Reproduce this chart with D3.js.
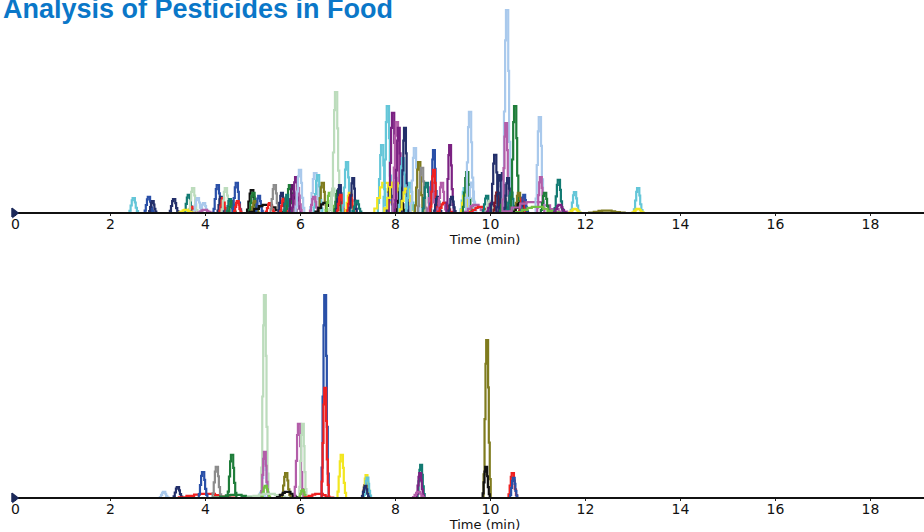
<!DOCTYPE html>
<html>
<head>
<meta charset="utf-8">
<script src="https://cdn.jsdelivr.net/npm/d3@7"></script>
<style>
  body { margin: 0; background: #fff; }
  svg { display: block; }
</style>
</head>
<body>
<div id="chart"></div>
<script>
// peaks: retention time (min), relative height (% of tallest), trace, width (min)
var topTimes   = [2.50, 2.82, 2.90, 3.35, 3.66, 3.72, 3.75, 3.85, 3.98, 3.60, 4.00, 4.27, 4.34, 4.38, 4.44, 4.53, 4.57, 4.67, 4.69,
                  4.99, 5.02, 5.05, 5.14, 5.31, 5.37, 5.47, 5.62, 5.66, 5.79, 5.73, 5.85, 5.92, 5.96, 6.00, 6.32, 6.38, 6.30,
                  6.48, 6.55, 6.63, 6.70, 6.76, 6.80, 6.84, 6.86, 6.99, 7.05, 7.07, 7.12, 7.20, 7.73, 7.79, 7.85, 7.90, 7.96,
                  8.00, 8.04, 8.08, 8.12, 8.17, 8.21, 8.25, 8.32, 8.42, 8.51, 8.57, 8.67, 8.78, 8.82, 8.82, 8.90, 8.99, 9.05,
                  9.16, 9.20, 9.47, 9.48, 9.52, 9.58, 9.62, 9.70, 9.80, 9.94, 10.00, 10.05, 10.11, 10.15, 10.21, 10.27, 10.30,
                  10.36, 10.34, 10.38, 10.45, 10.53, 10.61, 10.65, 10.69, 10.72, 10.95, 11.05, 11.07, 11.16, 11.00, 11.45,
                  11.47, 11.79, 11.79, 12.46, 13.12, 13.12];
var topHeights = [7.4, 7.9, 5.9, 6.9, 8.9, 3.0, 12.3, 7.4, 4.9, 1.5, 1.5, 13.8, 7.9, 7.4, 12.3, 6.9, 5.9, 14.8, 5.9,
                  11.3, 9.9, 5.9, 8.4, 4.0, 4.9, 13.8, 9.9, 7.0, 13.8, 8.9, 13.8, 17.7, 12.3, 21.2, 19.7, 18.7, 8.0,
                  14.8, 5.0, 9.9, 12.0, 59.6, 11.0, 13.8, 9.0, 25.1, 9.9, 8.9, 17.2, 6.0, 33.5, 14.8, 52.7, 12.0, 49.3,
                  15.0, 44.8, 41.9, 12.0, 27.1, 41.9, 12.0, 14.8, 32.0, 25.1, 22.2, 14.8, 14.8, 31.0, 21.2, 8.0, 14.8, 5.0,
                  33.5, 8.0, 12.3, 9.9, 20.2, 49.8, 15.0, 4.0, 3.0, 8.4, 6.0, 5.0, 28.6, 10.0, 18.7, 19.7, 8.0,
                  100, 44.3, 17.2, 10.0, 52.7, 9.9, 5.0, 7.4, 9.0, 5.4, 47.3, 17.7, 9.9, 3.0, 16.3,
                  4.0, 10.3, 2.0, 1.2, 12.3, 2.0];
var topTraces  = ["cyan", "blue", "navy", "navy", "teal", "red", "lgreen", "lblue", "lblue", "yellow", "orchid", "blue", "navy", "red", "lgreen", "teal", "green", "blue", "red",
                  "black", "green", "olive", "blue", "black", "red", "grey", "navy", "red", "green", "teal", "dpurple", "purple", "orchid", "lblue", "lblue", "cyan", "orchid",
                  "olive", "black", "lime", "lgreen", "lgreen", "green", "navy", "red", "cyan", "yellow", "red", "navy", "teal", "cyan", "yellow", "cyan", "navy", "purple",
                  "yellow", "orchid", "purple", "black", "cyan", "navy", "yellow", "cyan", "lblue", "olive", "grey", "teal", "orchid", "blue", "red", "navy", "orchid", "red",
                  "purple", "navy", "cyan", "yellow", "green", "lblue", "lblue", "orchid", "red", "teal", "lgreen", "purple", "navy", "dred", "navy", "navy", "green",
                  "lblue", "orchid", "navy", "teal", "green", "olive", "black", "red", "blue", "orchid", "lblue", "orchid", "green", "lime", "teal",
                  "purple", "cyan", "yellow", "olive", "cyan", "yellow"];
var topWidths  = [0.06, 0.06, 0.05, 0.06, 0.06, 0.05, 0.06, 0.06, 0.06, 0.10, 0.10, 0.06, 0.05, 0.05, 0.06, 0.05, 0.05, 0.06, 0.05,
                  0.07, 0.06, 0.05, 0.05, 0.25, 0.06, 0.06, 0.05, 0.05, 0.06, 0.05, 0.05, 0.06, 0.05, 0.06, 0.07, 0.06, 0.06,
                  0.06, 0.15, 0.06, 0.06, 0.06, 0.05, 0.05, 0.05, 0.06, 0.06, 0.05, 0.05, 0.06, 0.06, 0.15, 0.06, 0.05, 0.06,
                  0.15, 0.06, 0.05, 0.05, 0.06, 0.05, 0.10, 0.06, 0.06, 0.06, 0.06, 0.06, 0.06, 0.05, 0.05, 0.05, 0.06, 0.10,
                  0.05, 0.05, 0.06, 0.06, 0.06, 0.06, 0.06, 0.15, 0.15, 0.06, 0.06, 0.08, 0.06, 0.05, 0.05, 0.05, 0.06,
                  0.06, 0.05, 0.05, 0.06, 0.06, 0.06, 0.10, 0.05, 0.05, 0.45, 0.06, 0.05, 0.06, 0.30, 0.06,
                  0.08, 0.06, 0.08, 0.25, 0.06, 0.08];

var bottomTimes   = [3.14, 3.43, 4.05, 3.96, 4.25, 4.57, 4.65, 5.20, 5.26, 5.26, 5.26, 5.28, 5.35, 5.71, 5.74, 5.98, 6.06, 6.06,
                     6.40, 6.53, 6.53, 6.88, 7.39, 7.40, 7.42, 7.38, 8.55, 8.53, 8.50, 9.94, 9.92, 10.48, 10.50];
var bottomHeights = [3.0, 5.4, 2.0, 12.8, 15.3, 21.2, 1.5, 3.0, 100, 19.7, 22.7, 6.0, 2.0, 12.3, 3.0, 36.5, 36.5, 4.0,
                     2.0, 100, 54.2, 21.2, 7.4, 11.3, 10.0, 6.0, 16.3, 12.3, 3.0, 77.8, 15.3, 12.3, 9.9];
var bottomTraces  = ["lblue", "navy", "red", "blue", "grey", "green", "green", "lblue", "lgreen", "lblue", "orchid", "lime", "lgreen", "olive", "black", "orchid", "lgreen", "lime",
                     "red", "blue", "red", "yellow", "dred", "yellow", "cyan", "navy", "teal", "purple", "orchid", "olive", "black", "red", "blue"];
var bottomWidths  = [0.06, 0.06, 0.40, 0.06, 0.06, 0.06, 0.30, 0.06, 0.05, 0.05, 0.05, 0.06, 0.30, 0.06, 0.15, 0.06, 0.05, 0.05,
                     0.20, 0.05, 0.05, 0.06, 0.05, 0.05, 0.05, 0.05, 0.05, 0.05, 0.08, 0.05, 0.05, 0.06, 0.05];

var timeTicks = [0, 2, 4, 6, 8, 10, 12, 14, 16, 18];

var traceColors = {
  lblue: "#a9c9ec", cyan: "#64c6d8", navy: "#232f6a", blue: "#2a50a8", purple: "#7b2182", dpurple: "#5a1a66",
  orchid: "#b35ea9", green: "#1f7d3a", teal: "#127a72", red: "#f02020", yellow: "#f2e620", olive: "#7f7b1e",
  black: "#111111", grey: "#8c8c8c", lgreen: "#bcdcbc", lime: "#74c043", dred: "#7d1a26"
};

var width = 924, height = 532;

var svg = d3.select("#chart")
  .append("svg")
  .attr("width", width)
  .attr("height", height);

svg.append("text")
  .attr("x", 3)
  .attr("y", 18)
  .style("font-family", "Liberation Sans, Arial, sans-serif")
  .style("font-weight", "bold")
  .style("font-size", "27px")
  .style("fill", "#0a77c8")
  .text("Analysis of Pesticides in Food");

var x = d3.scaleLinear().domain([0, 18]).range([15, 870]);

// stepped outline of one peak: offsets in peak widths, level as fraction of apex
var shapeOffsets = [-5, -1.5, -1.1, -0.7, -0.4, 0.4, 0.7, 1.1, 1.5, 5];
var shapeLevels  = [0, 0.15, 0.5, 0.85, 1, 0.7, 0.35, 0.12, 0, 0];

function drawPanel(baseY, times, heights, traces, widths) {
  var y = d3.scaleLinear().domain([0, 100]).range([baseY, baseY - 203]);

  var line = d3.line()
    .x(function (d) { return x(d[0]); })
    .y(function (d) { return y(d[1]); })
    .curve(d3.curveStepAfter);

  var peaks = times.map(function (t, i) {
    return { t: t, h: heights[i], trace: traces[i], w: widths[i] };
  });

  var g = svg.append("g");

  g.selectAll("path.peak")
    .data(peaks)
    .enter()
    .append("path")
    .attr("class", "peak")
    .attr("d", function (p) {
      var pts = shapeOffsets.map(function (o, k) {
        return [p.t + o * p.w, p.h * shapeLevels[k]];
      });
      return line(pts);
    })
    .style("fill", "none")
    .style("stroke", function (p) { return traceColors[p.trace]; })
    .style("stroke-width", "2.2px")
    .style("stroke-linejoin", "miter");

  // axis
  var axis = d3.axisBottom(x)
    .tickValues(timeTicks)
    .tickSize(3)
    .tickPadding(3);

  var ax = g.append("g")
    .attr("transform", "translate(0," + baseY + ")")
    .call(axis);

  ax.select(".domain").remove();
  ax.selectAll(".tick line").style("stroke", "#222");
  ax.selectAll(".tick text")
    .style("font-family", "DejaVu Sans, Verdana, sans-serif")
    .style("font-size", "14px")
    .style("fill", "#111");

  g.append("line")
    .attr("x1", 12)
    .attr("x2", width)
    .attr("y1", baseY)
    .attr("y2", baseY)
    .style("stroke", "#111")
    .style("stroke-width", "2px");

  // start marker
  g.append("path")
    .attr("d", "M12," + (baseY - 5) + "L12," + (baseY + 4) + "M13," + (baseY - 4) + "L18," + baseY + "L13," + (baseY + 4) + "Z")
    .style("fill", "#1c2a5a")
    .style("stroke", "#1c2a5a")
    .style("stroke-width", "1.5px");

  g.append("text")
    .attr("x", 485)
    .attr("y", baseY + 31)
    .attr("text-anchor", "middle")
    .style("font-family", "DejaVu Sans, Verdana, sans-serif")
    .style("font-size", "13px")
    .style("fill", "#111")
    .text("Time (min)");
}

drawPanel(213, topTimes, topHeights, topTraces, topWidths);
drawPanel(498, bottomTimes, bottomHeights, bottomTraces, bottomWidths);
</script>
</body>
</html>
